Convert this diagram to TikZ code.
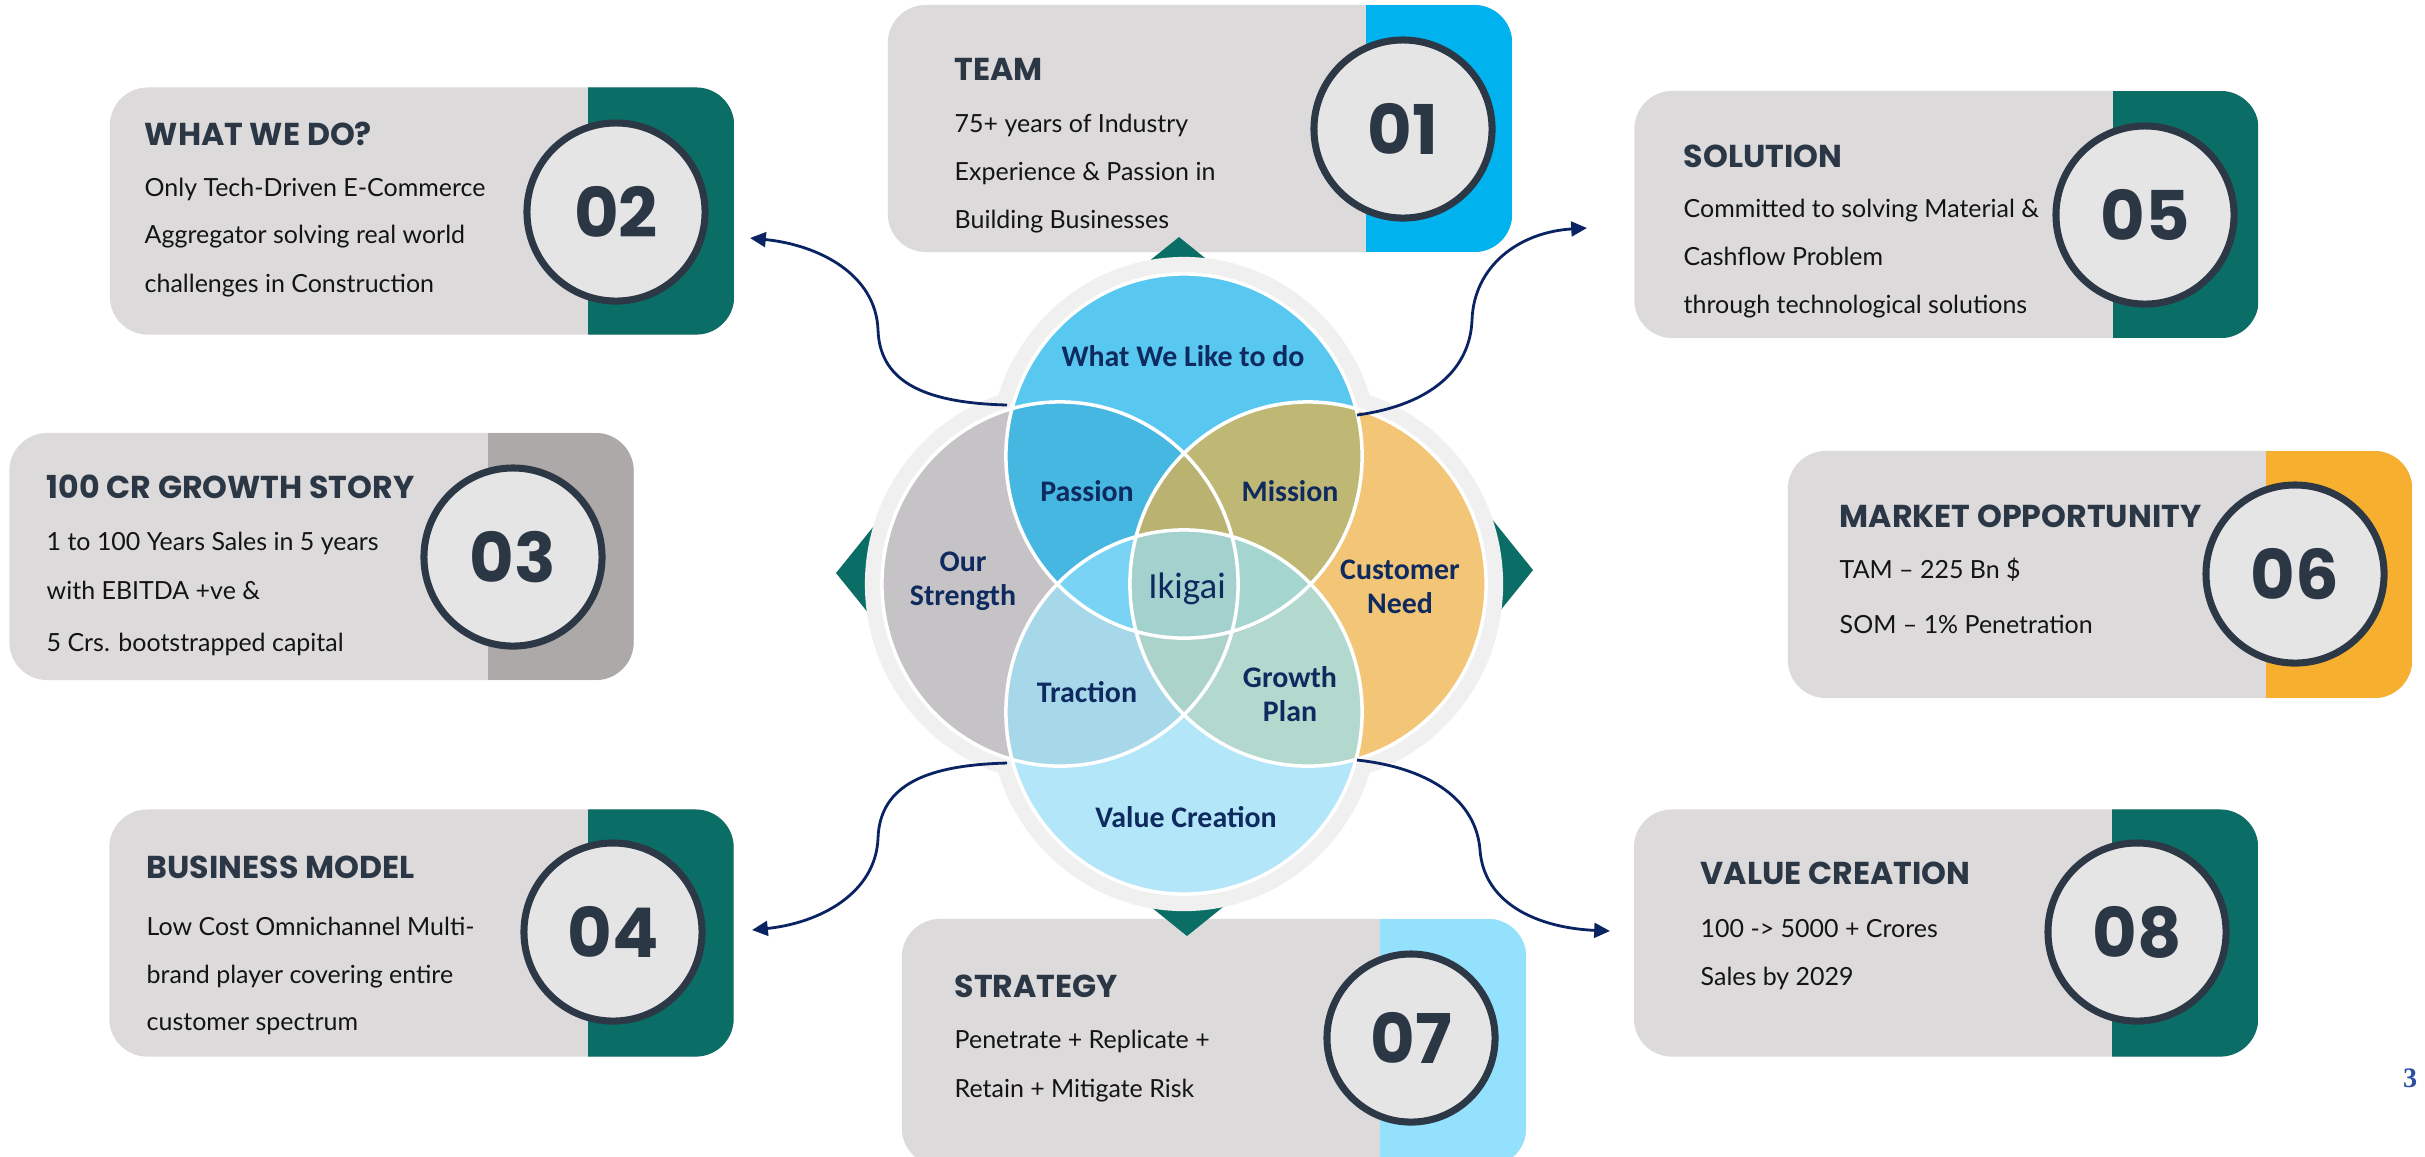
\documentclass[tikz,border=0pt]{standalone}
\usepackage{fontspec}
\usetikzlibrary{arrows.meta}
\setmainfont{Lato}
\newfontfamily\popfont{Poppins}
\newfontfamily\calfont{Carlito}
\newfontfamily\serfont{Liberation Serif}

\definecolor{cardgray}{HTML}{DCDADB}
\definecolor{circfill}{HTML}{E6E5E6}
\definecolor{ringdark}{HTML}{2D3846}
\definecolor{titledark}{HTML}{2C3746}
\definecolor{bodyblack}{HTML}{141414}
\definecolor{stripteal}{HTML}{0B6E66}
\definecolor{stripcyan}{HTML}{00B2EE}
\definecolor{stripgray}{HTML}{ADA9A9}
\definecolor{striporange}{HTML}{F6AF2E}
\definecolor{striplight}{HTML}{93E1FD}
\definecolor{vennring}{HTML}{F0F0F0}
\definecolor{cTop}{HTML}{58C8F1}
\definecolor{cLeft}{HTML}{C5C3C5}
\definecolor{cRight}{HTML}{F2C676}
\definecolor{cBot}{HTML}{B3E6F8}
\definecolor{cPassion}{HTML}{45B7E1}
\definecolor{cMission}{HTML}{BEB874}
\definecolor{cTLR}{HTML}{B9B270}
\definecolor{cTraction}{HTML}{A6D8EA}
\definecolor{cGrowth}{HTML}{B3D8CD}
\definecolor{cBLR}{HTML}{ACD3C9}
\definecolor{cTBL}{HTML}{79D3F4}
\definecolor{cTBR}{HTML}{A4D6CF}
\definecolor{cCenter}{HTML}{A3D2CE}
\definecolor{vennnavy}{HTML}{0E2A5E}
\definecolor{linenavy}{HTML}{0A2463}
\definecolor{logoblue}{HTML}{2B4EA2}

% the four overlapping circles of the Ikigai diagram
\def\ellT{(1184,456) ellipse [x radius=1.78cm, y radius=1.82cm]}
\def\ellB{(1184,712) ellipse [x radius=1.78cm, y radius=1.82cm]}
\def\ellL{(1060,584) ellipse [x radius=1.78cm, y radius=1.82cm]}
\def\ellR{(1308,584) ellipse [x radius=1.78cm, y radius=1.82cm]}

\begin{document}
\begin{tikzpicture}[x=0.01cm, y=-0.01cm,
  card/.style={fill=cardgray, rounded corners=0.38cm, minimum width=6.24cm,
    minimum height=2.47cm, inner sep=0pt,
    path picture={\fill[#1, sharp corners]
      ([xshift=-1.46cm]path picture bounding box.north east)
      rectangle (path picture bounding box.south east);}},
  numcirc/.style={circle, draw=ringdark, line width=2pt, fill=circfill,
    minimum size=1.78cm, inner sep=0pt, text=titledark,
    font=\popfont\bfseries\fontsize{19.5}{20}\selectfont},
  ttl/.style={anchor=base west, inner sep=0pt, text=titledark,
    font=\popfont\bfseries\fontsize{9}{10}\selectfont},
  bodytxt/.style={anchor=base west, inner sep=0pt, text=bodyblack,
    font=\fontsize{7.1}{8}\selectfont},
  venn/.style={align=center, inner sep=0pt, text=vennnavy,
    font=\calfont\bfseries\fontsize{8.5}{9.7}\selectfont},
  pointer/.style={fill=stripteal},
  conn/.style={draw=linenavy, line width=0.8pt,
    -{Triangle[length=4.5pt, width=4.2pt]}}]

\useasboundingbox (0,0) rectangle (2425,1156);

% ---------- cards ----------
\node[card=stripcyan]   (b1) at (1200,128.5) {};
\node[card=stripteal]   (b2) at (422,211) {};
\node[card=stripgray]   (b3) at (321.5,556.5) {};
\node[card=stripteal]   (b4) at (421.5,933) {};
\node[card=stripteal]   (b5) at (1946.5,214.5) {};
\node[card=striporange] (b6) at (2100,574.5) {};
\node[card=striplight]  (b7) at (1214,1042.5) {};
\node[card=stripteal]   (b8) at (1946,933) {};

\node[numcirc] (n1) at (1403,129) {01};
\node[numcirc] (n2) at (616,212) {02};
\node[numcirc] (n3) at (513,557) {03};
\node[numcirc] (n4) at (613,932) {04};
\node[numcirc] (n5) at (2145,215) {05};
\node[numcirc] (n6) at (2295,574) {06};
\node[numcirc, minimum size=1.68cm] (n7) at (1411,1038) {07};
\node[numcirc] (n8) at (2137,932) {08};

% card texts
\node[ttl] (t1) at (954,80) {TEAM};
\node[bodytxt] (t1a) at (954,132) {75+ years of Industry};
\node[bodytxt] (t1b) at (954,180) {Experience \& Passion in};
\node[bodytxt] (t1c) at (954,228) {Building Businesses};

\node[ttl] (t2) at (144,145) {WHAT WE DO?};
\node[bodytxt] (t2a) at (144,196) {Only Tech-Driven E-Commerce};
\node[bodytxt] (t2b) at (144,243) {Aggregator solving real world};
\node[bodytxt] (t2c) at (144,292) {challenges in Construction};

\node[ttl] (t3) at (46,498) {100 CR GROWTH STORY};
\node[bodytxt] (t3a) at (46,550) {1 to 100 Years Sales in 5 years};
\node[bodytxt] (t3b) at (46,599) {with EBITDA +ve \&};
\node[bodytxt] (t3c) at (46,651) {5 Crs. bootstrapped capital};

\node[ttl] (t4) at (146,878) {BUSINESS MODEL};
\node[bodytxt] (t4a) at (146,935) {Low Cost Omnichannel Multi-};
\node[bodytxt] (t4b) at (146,983) {brand player covering entire};
\node[bodytxt] (t4c) at (146,1030) {customer spectrum};

\node[ttl] (t5) at (1683,167) {SOLUTION};
\node[bodytxt] (t5a) at (1683,217) {Committed to solving Material \&};
\node[bodytxt] (t5b) at (1683,265) {Cashflow Problem};
\node[bodytxt] (t5c) at (1683,313) {through technological solutions};

\node[ttl] (t6) at (1839,527) {MARKET OPPORTUNITY};
\node[bodytxt] (t6a) at (1839,578) {TAM – 225 Bn \$};
\node[bodytxt] (t6b) at (1839,633) {SOM – 1\% Penetration};

\node[ttl] (t7) at (954,997) {STRATEGY};
\node[bodytxt] (t7a) at (954,1048) {Penetrate + Replicate +};
\node[bodytxt] (t7b) at (954,1097) {Retain + Mitigate Risk};

\node[ttl] (t8) at (1700,884) {VALUE CREATION};
\node[bodytxt] (t8a) at (1700,937) {100 -> 5000 + Crores};
\node[bodytxt] (t8b) at (1700,985) {Sales by 2029};

% ---------- teal pointers around the diagram ----------
\fill[pointer] (1179,237) -- (1241,287) -- (1117,287) -- cycle;
\fill[pointer] (1187,936) -- (1249,886) -- (1125,886) -- cycle;
\fill[pointer] (836,573) -- (886,511) -- (886,635) -- cycle;
\fill[pointer] (1533,570) -- (1483,508) -- (1483,632) -- cycle;

% ---------- Ikigai diagram ----------
\fill[vennring] (1184,456) ellipse [x radius=1.95cm, y radius=1.99cm]
                (1184,712) ellipse [x radius=1.95cm, y radius=1.99cm]
                (1060,584) ellipse [x radius=1.95cm, y radius=1.99cm]
                (1308,584) ellipse [x radius=1.95cm, y radius=1.99cm];
\fill[cTop] \ellT;
\fill[cLeft] \ellL;
\fill[cRight] \ellR;
\fill[cBot] \ellB;
\begin{scope}
  \clip \ellT;
  \fill[cPassion] \ellL;
  \fill[cMission] \ellR;
  \clip \ellL;
  \fill[cTLR] \ellR;
\end{scope}
\begin{scope}
  \clip \ellB;
  \fill[cTraction] \ellL;
  \fill[cGrowth] \ellR;
  \clip \ellL;
  \fill[cBLR] \ellR;
\end{scope}
\begin{scope}
  \clip \ellT;
  \clip \ellB;
  \fill[cTBL] \ellL;
  \fill[cTBR] \ellR;
  \clip \ellL;
  \fill[cCenter] \ellR;
\end{scope}
\draw[white, line width=1pt] \ellT \ellB \ellL \ellR;

\node[venn] (v1) at (1183,356) {What We Like to do};
\node[venn] (v2) at (1087,491) {Passion};
\node[venn] (v3) at (1290,491) {Mission};
\node[venn] (v4) at (963,581) {Our\\Strength};
\node[venn] (v5) at (1400,587) {Customer\\Need};
\node[venn, font=\calfont\fontsize{10.5}{11}\selectfont] (v6) at (1187,589) {Ikigai};
\node[venn] (v7) at (1087,692) {Traction};
\node[venn] (v8) at (1290,694) {Growth\\Plan};
\node[venn] (v9) at (1186,817) {Value Creation};

% ---------- connectors ----------
\coordinate (jUL) at (1007,405);
\coordinate (jUR) at (1357,415);
\coordinate (jLL) at (1007,763);
\coordinate (jLR) at (1357,760);
\coordinate (p2) at (750,238);
\coordinate (p5) at (1587,228);
\coordinate (p4) at (752,930);
\coordinate (p8) at (1610,931);

\draw[conn] (jUL) .. controls (930,403) and (880,385) .. (878,330)
                  .. controls (876,275) and (820,245) .. (p2);
\draw[conn] (jUR) .. controls (1430,405) and (1470,370) .. (1472,320)
                  .. controls (1474,265) and (1520,232) .. (p5);
\draw[conn] (jLL) .. controls (930,765) and (880,783) .. (878,838)
                  .. controls (876,893) and (820,923) .. (p4);
\draw[conn] (jLR) .. controls (1430,768) and (1476,800) .. (1480,850)
                  .. controls (1484,905) and (1540,928) .. (p8);

% corner mark
\node[inner sep=0pt, text=logoblue,
      font=\serfont\bfseries\fontsize{8}{8}\selectfont] (mark) at (2410,1078) {3};
\end{tikzpicture}
\end{document}
